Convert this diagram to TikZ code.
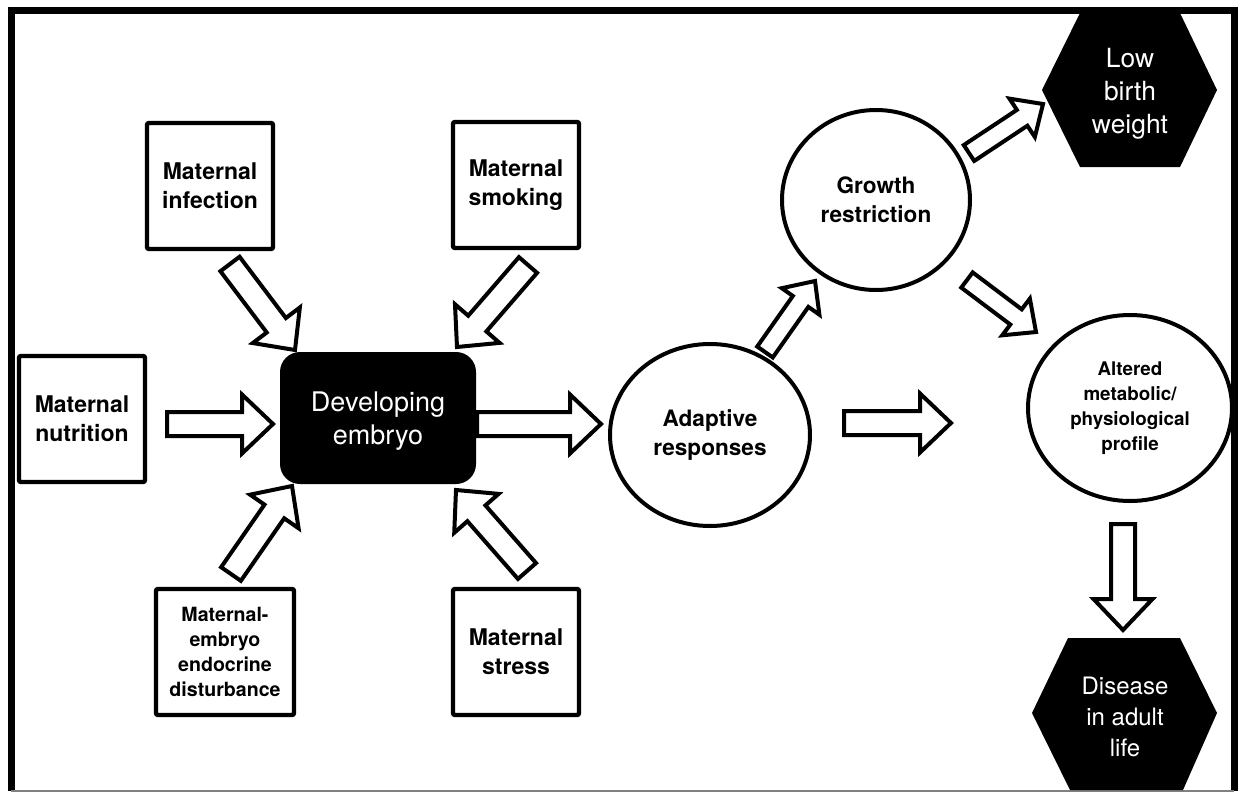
\documentclass[tikz,border=0pt]{standalone}
\usepackage{fontspec}
\setmainfont{TeX Gyre Heros}
\usetikzlibrary{calc,shapes.geometric}
\tikzset{
  box/.style={draw, line width=2.2pt, fill=white, rounded corners=1pt, minimum width=63pt, minimum height=63pt, inner sep=0pt, align=center, font=\bfseries\fontsize{11.5}{14.5}\selectfont},
  circ/.style={draw, ellipse, fill=white, line width=2pt, inner sep=0pt, align=center, font=\bfseries\fontsize{11.3}{14.5}\selectfont},
  barrow/.style={draw, fill=white, line width=2pt, line join=miter},
  hexfill/.style={fill=black},
  hexlabel/.style={text=white, align=center, inner sep=0pt},
  framestyle/.style={line width=3.5pt},
}
\newcommand\blockarrow[5]{%
  \path ($(#2)!#5!(#1)$) coordinate (hb);
  \draw[barrow] ($(#1)!#3!90:(#2)$) -- ($(hb)!#3!90:(#2)$) -- ($(hb)!#4!90:(#2)$) -- (#2)
     -- ($(hb)!#4!-90:(#2)$) -- ($(hb)!#3!-90:(#2)$) -- ($(#1)!#3!-90:(#2)$) -- cycle;
}
\newcommand\bigarrow[2]{\blockarrow{#1}{#2}{6pt}{14.75pt}{15.5pt}}
\newcommand\smallarrow[2]{\blockarrow{#1}{#2}{4.75pt}{11.5pt}{12.5pt}}
\begin{document}
\begin{tikzpicture}[x=0.5pt,y=-0.5pt]
\useasboundingbox (0,0) rectangle (1244,793);
% frame
\coordinate (fbl) at (11,791);
\coordinate (ftl) at (11,10);
\coordinate (ftr) at (1234,10);
\coordinate (fbr) at (1234,791);
\draw[framestyle, line join=miter] (fbl) -- (ftl) -- (ftr) -- (fbr);
\draw[gray, line width=0.6pt] (fbl) -- (fbr);

% hexagons
\fill[hexfill] (1042,90) -- (1080,13) -- (1180,13) -- (1217,90) -- (1180,167) -- (1080,167) -- cycle;
\fill[hexfill] (1032,713) -- (1068,638) -- (1180,638) -- (1217,713) -- (1183,790) -- (1070,790) -- cycle;
\node[hexlabel, font=\fontsize{13.2}{16.5}\selectfont] (lbw) at (1130,94) {Low\\birth\\weight};
\node[hexlabel, font=\fontsize{12}{15.5}\selectfont] (dis) at (1125,717) {Disease\\in adult\\life};

% arrow end points
\coordinate (a1s) at (230,264); \coordinate (a1e) at (295,350);
\coordinate (a2s) at (528,265); \coordinate (a2e) at (457,347);
\coordinate (a3s) at (167,424); \coordinate (a3e) at (273,424);
\coordinate (a4s) at (231,574); \coordinate (a4e) at (292,486);
\coordinate (a5s) at (527,571); \coordinate (a5e) at (456,490);
\coordinate (a6s) at (477,424); \coordinate (a6e) at (601,424);
\coordinate (a7s) at (765,352); \coordinate (a7e) at (815,281);
\coordinate (a8s) at (844,423); \coordinate (a8e) at (951,423);
\coordinate (a9s) at (969,153); \coordinate (a9e) at (1043,104);
\coordinate (a10s) at (967,280); \coordinate (a10e) at (1036,332);
\coordinate (a11s) at (1123,524); \coordinate (a11e) at (1123,630);

\bigarrow{a1s}{a1e}
\bigarrow{a2s}{a2e}
\bigarrow{a3s}{a3e}
\bigarrow{a4s}{a4e}
\bigarrow{a5s}{a5e}
\bigarrow{a6s}{a6e}
\smallarrow{a7s}{a7e}
\bigarrow{a8s}{a8e}
\smallarrow{a9s}{a9e}
\smallarrow{a10s}{a10e}
\bigarrow{a11s}{a11e}

% boxes
\node[box] (inf) at (210,186) {Maternal\\infection};
\node[box] (smk) at (516,185) {Maternal\\smoking};
\node[box] (nut) at (82,419) {Maternal\\nutrition};
\node[box, minimum width=69pt, font=\bfseries\fontsize{9.8}{12.5}\selectfont] (endo) at (225,652) {Maternal-\\embryo\\endocrine\\disturbance};
\node[box] (str) at (516,652) {Maternal\\stress};
\node[fill=black, rounded corners=10pt, minimum width=98pt, minimum height=66pt, inner sep=0pt, align=center, text=white, font=\fontsize{13.5}{16.5}\selectfont] (emb) at (378,418) {};
\node[text=white, align=center, inner sep=0pt, font=\fontsize{13.5}{16.5}\selectfont] (embtxt) at (378,421) {Developing\\embryo};

% circles
\node[circ, minimum width=100pt, minimum height=91pt] (ada) at (710,435) {Adaptive\\responses};
\node[circ, minimum width=94pt, minimum height=90pt] (gro) at (876,200) {Growth\\restriction};
\node[circ, minimum width=102pt, minimum height=93pt, font=\bfseries\fontsize{9.4}{12.5}\selectfont] (alt) at (1130,408) {Altered\\metabolic/\\physiological\\profile};
\end{tikzpicture}
\end{document}
